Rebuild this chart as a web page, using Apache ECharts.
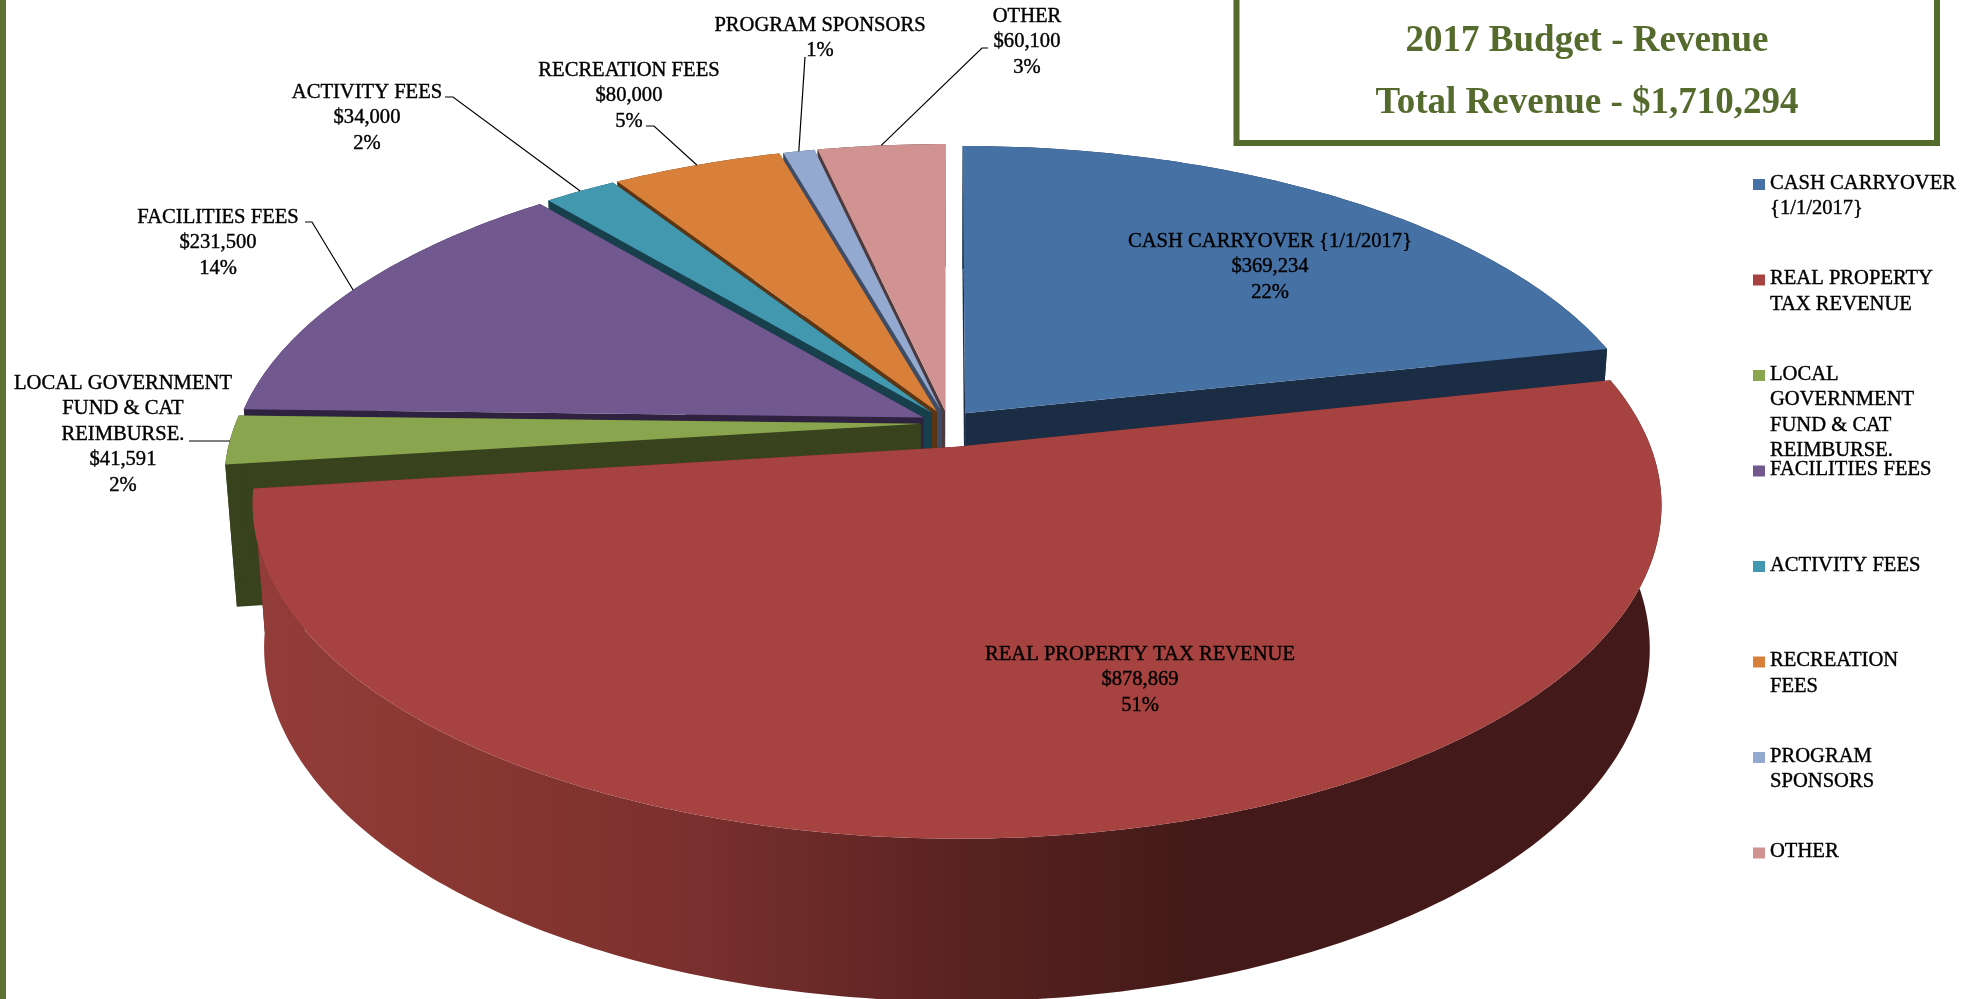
<!DOCTYPE html>
<html>
<head>
<meta charset="utf-8">
<title>2017 Budget - Revenue</title>
<script src="https://cdn.jsdelivr.net/npm/echarts@6/dist/echarts.min.js"></script>
<style>
  html, body { margin: 0; padding: 0; background: #fff; }
  #chart { width: 1974px; height: 999px; }
</style>
</head>
<body>
<div id="chart"></div>
<script>
// data
var categories = ['CASH CARRYOVER {1/1/2017}', 'REAL PROPERTY TAX REVENUE', 'LOCAL GOVERNMENT\nFUND & CAT\nREIMBURSE.', 'FACILITIES FEES', 'ACTIVITY FEES', 'RECREATION FEES', 'PROGRAM SPONSORS', 'OTHER'];
var legendNames = ['CASH CARRYOVER\n{1/1/2017}', 'REAL PROPERTY\nTAX REVENUE', 'LOCAL\nGOVERNMENT\nFUND & CAT\nREIMBURSE.', 'FACILITIES FEES', 'ACTIVITY FEES', 'RECREATION\nFEES', 'PROGRAM\nSPONSORS', 'OTHER'];
var values = [369234, 878869, 41591, 231500, 34000, 80000, 14800, 60100];
var moneyLabels = ['$369,234', '$878,869', '$41,591', '$231,500', '$34,000', '$80,000', '', '$60,100'];
var percentLabels = ['22%', '51%', '2%', '14%', '2%', '5%', '1%', '3%'];
var explode = [0.04, 0.075, 0.04, 0.04, 0.04, 0.04, 0.04, 0.04];

// colours
var topColors = ['#4571a5', '#a64240', '#89a54e', '#71588f', '#4198af', '#d88039', '#93a9cf', '#d19392'];
var wallColors = ['#1b2d45', '#5a2321', '#38431e', '#2e2240', '#17404c', '#5c3512', '#3e4c66', '#4d3a3c'];
var oliveColor = '#556b2e';

// back to front
var drawOrder = [7, 6, 5, 4, 3, 2, 0, 1];

// label layout: centre x, first line y, elbow of the leader line (null = none)
var labelX = [1270, 1140, 123, 218, 367, 629, 820, 1027];
var labelY = [240, 653, 382, 216, 91, 69, 24, 15];
var leaderFrom = [null, null, [189, 441], [305, 222], [445, 97], [646, 126], [805, 57], [988, 48]];
var leaderElbow = [null, null, [189, 441], [312, 222], [453, 97], [654, 126], [805, 57], [982, 48]];

// projection of the pie
var cam = { cx: 948, cy: 423, a: 685, b: 316, h: 142, py: 0.171, pz: 0.016 };
var serif = '"Liberation Serif", serif';
var labelFont = '20.6px ' + serif;
var lineH = 25.5;
var inkShift = 1.5;

var total = values.reduce(function(s, v) { return s + v; }, 0);

function sliceAngles(i) {
  var before = 0;
  for (var k = 0; k < i; k++) before += values[k];
  return [before / total * Math.PI * 2, (before + values[i]) / total * Math.PI * 2];
}

// world -> screen, r in pie radii, angle clockwise from the back
function project(i, r, t, bottom) {
  var ang = sliceAngles(i);
  var mid = (ang[0] + ang[1]) / 2;
  var x = r * Math.sin(t) + explode[i] * Math.sin(mid);
  var y = -r * Math.cos(t) - explode[i] * Math.cos(mid);
  var w = 1 - cam.py * y + (bottom ? cam.pz : 0);
  return [
    cam.cx + cam.a * x / w,
    cam.cy + (cam.b * y + (bottom ? cam.h : 0)) / w
  ];
}

function arc(i, bottom) {
  var ang = sliceAngles(i);
  var n = Math.max(2, Math.ceil((ang[1] - ang[0]) / 0.015));
  var pts = [];
  for (var k = 0; k <= n; k++) {
    pts.push(project(i, 1, ang[0] + (ang[1] - ang[0]) * k / n, bottom));
  }
  return pts;
}

function poly(points, fill) {
  return { type: 'polygon', shape: { points: points }, style: { fill: fill } };
}

function renderItem(params, api) {
  var i = drawOrder[params.dataIndex];
  var ang = sliceAngles(i);
  var top = arc(i, false);
  var bot = arc(i, true);
  var apexTop = project(i, 0, 0, false);
  var apexBot = project(i, 0, 0, true);
  var wallFill = wallColors[i];
  if (i === 1) {
    wallFill = new echarts.graphic.LinearGradient(0, 0, 1, 0, [
      { offset: 0, color: '#933d3a' },
      { offset: 0.17, color: '#873630' },
      { offset: 0.31, color: '#7a302e' },
      { offset: 0.5, color: '#5a2321' },
      { offset: 0.67, color: '#431a19' },
      { offset: 1, color: '#431a19' }
    ]);
  }
  var children = [];
  // both cut faces
  children.push(poly([apexTop, top[0], bot[0], apexBot], wallColors[i]));
  children.push(poly([apexTop, top[top.length - 1], bot[bot.length - 1], apexBot], wallColors[i]));
  // outer wall
  children.push(poly(top.concat(bot.slice().reverse()), wallFill));
  // top face
  children.push(poly([apexTop].concat(top), topColors[i]));

  // leader line ends on the rim at the middle of the slice
  if (leaderFrom[i]) {
    var end = project(i, 1, (ang[0] + ang[1]) / 2, false);
    if (i === 2) end = [230, leaderFrom[i][1]];
    children.push({
      type: 'polyline',
      shape: { points: [leaderFrom[i], leaderElbow[i], end] },
      style: { fill: null, stroke: '#000', lineWidth: 1.2 }
    });
  }
  return { type: 'group', children: children };
}

function renderLabel(params, api) {
  var i = params.dataIndex;
  var lines = [categories[i]];
  if (moneyLabels[i]) lines.push(moneyLabels[i]);
  lines.push(percentLabels[i]);
  return {
    type: 'text',
    style: {
      x: labelX[i],
      y: labelY[i] + inkShift - lineH / 2,
      text: lines.join('\n'),
      align: 'center',
      verticalAlign: 'top',
      font: labelFont,
      lineHeight: lineH,
      fill: '#000',
      stroke: '#000',
      lineWidth: 0.4
    }
  };
}

// legend, fixed step between the entries
var legendStep = 95.5;
var legendEls = [];
categories.forEach(function(c, i) {
  var y = 182 + legendStep * i;
  legendEls.push({ type: 'rect', shape: { x: 1753, y: y - 3, width: 12, height: 11 }, style: { fill: topColors[i] } });
  legendEls.push({
    type: 'text',
    style: {
      x: 1770, y: y + inkShift - lineH / 2,
      text: legendNames[i],
      font: labelFont,
      lineHeight: lineH,
      verticalAlign: 'top',
      fill: '#000',
      stroke: '#000',
      lineWidth: 0.4
    }
  });
});

var myChart = echarts.init(document.getElementById('chart'), null, { renderer: 'canvas' });

myChart.setOption({
  backgroundColor: '#fff',
  animation: false,
  graphic: {
    elements: [
      { type: 'rect', shape: { x: 0, y: 0, width: 6, height: 999 }, style: { fill: '#5d7332' } },
      { type: 'rect', shape: { x: 1236.5, y: -20, width: 700.5, height: 163 }, style: { fill: '#fff', stroke: oliveColor, lineWidth: 6 } },
      { type: 'text', style: { x: 1587, y: 41, text: '2017 Budget - Revenue', align: 'center', verticalAlign: 'middle', font: 'bold 37px ' + serif, fill: oliveColor } },
      { type: 'text', style: { x: 1587, y: 103, text: 'Total Revenue - $1,710,294', align: 'center', verticalAlign: 'middle', font: 'bold 37px ' + serif, fill: oliveColor } }
    ].concat(legendEls)
  },
  series: [
    {
      type: 'custom',
      coordinateSystem: 'none',
      silent: true,
      clip: false,
      renderItem: renderItem,
      data: drawOrder.map(function(i) { return values[i]; })
    },
    {
      type: 'custom',
      coordinateSystem: 'none',
      silent: true,
      z: 5,
      renderItem: renderLabel,
      data: values
    }
  ]
});
</script>
</body>
</html>
